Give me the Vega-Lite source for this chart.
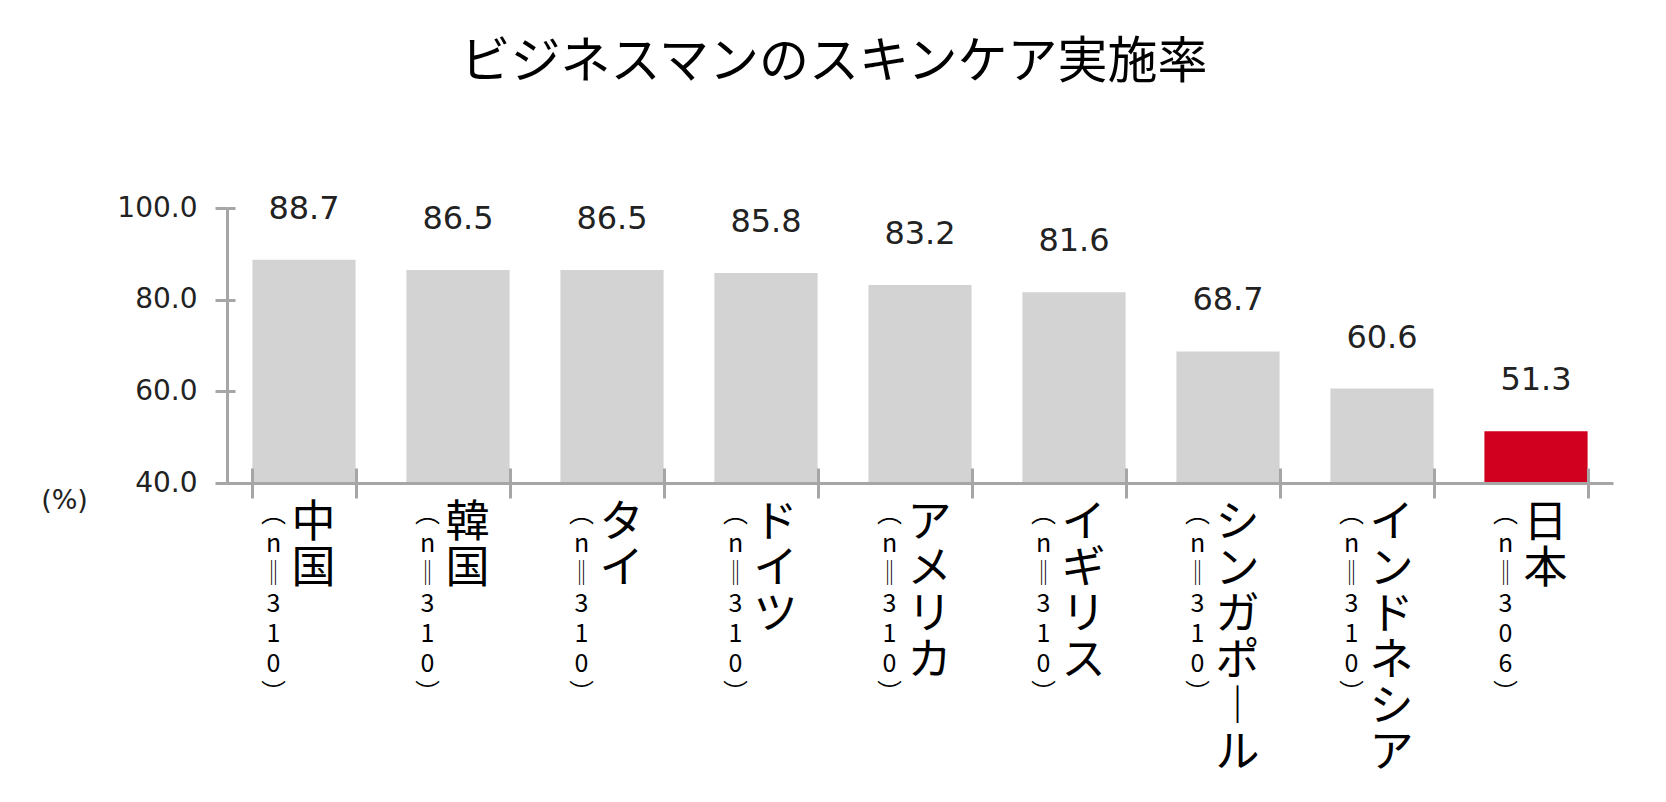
{
  "$schema": "https://vega.github.io/schema/vega-lite/v6.json",
  "width": 1386,
  "height": 275,
  "autosize": {"type": "none"},
  "padding": {"left": 227, "top": 208, "right": 53, "bottom": 319},
  "background": "white",
  "title": {
    "text": "ビジネスマンのスキンケア実施率",
    "font": "Noto Sans CJK JP",
    "fontSize": 50,
    "fontWeight": "normal",
    "color": "#000000",
    "anchor": "middle",
    "frame": "group",
    "dx": -86,
    "offset": 65,
    "baseline": "alphabetic"
  },
  "data": {
    "values": [
      {"country": "中国", "label": "中国 (n=310)", "n": 310, "rate": 88.7},
      {"country": "韓国", "label": "韓国 (n=310)", "n": 310, "rate": 86.5},
      {"country": "タイ", "label": "タイ (n=310)", "n": 310, "rate": 86.5},
      {"country": "ドイツ", "label": "ドイツ (n=310)", "n": 310, "rate": 85.8},
      {"country": "アメリカ", "label": "アメリカ (n=310)", "n": 310, "rate": 83.2},
      {"country": "イギリス", "label": "イギリス (n=310)", "n": 310, "rate": 81.6},
      {"country": "シンガポール", "label": "シンガポール (n=310)", "n": 310, "rate": 68.7},
      {"country": "インドネシア", "label": "インドネシア (n=310)", "n": 310, "rate": 60.6},
      {"country": "日本", "label": "日本 (n=306)", "n": 306, "rate": 51.3}
    ]
  },
  "layer": [
    {
      "mark": {"type": "bar"},
      "encoding": {
        "x": {
          "field": "label",
          "type": "nominal",
          "sort": null,
          "scale": {"paddingInner": 0.33, "paddingOuter": 0.165},
          "axis": {
            "orient": "bottom",
            "title": null,
            "zindex": 1,
            "domain": true,
            "domainColor": "#a6a6a6",
            "domainWidth": 3,
            "ticks": true,
            "tickBand": "extent",
            "tickSize": 15,
            "tickColor": "#a6a6a6",
            "tickWidth": 3,
            "labelAngle": 0,
            "labelAlign": "center",
            "labelBaseline": "top",
            "labelFont": "Noto Sans CJK JP",
            "labelFontSize": 44,
            "labelLineHeight": 46,
            "labelColor": "#000000",
            "labelOffset": 9,
            "labelPadding": 3,
            "labelOverlap": false,
            "labelExpr": "isValid(datum.value) ? split(replace(split(datum.value, ' ')[0], 'ー', '︱'), '') : ''"
          }
        },
        "y": {
          "field": "rate",
          "type": "quantitative",
          "scale": {"domain": [40, 100], "zero": false},
          "axis": {
            "orient": "left",
            "title": "(%)",
            "titleAngle": 0,
            "titleX": -163,
            "titleY": 292,
            "titleAlign": "center",
            "titleBaseline": "middle",
            "titleFont": "DejaVu Sans",
            "titleFontSize": 27,
            "titleFontWeight": "normal",
            "titleColor": "#222222",
            "values": [40, 60, 80, 100],
            "format": ".1f",
            "zindex": 1,
            "domain": true,
            "domainColor": "#a6a6a6",
            "domainWidth": 3,
            "ticks": true,
            "tickSize": 12,
            "tickColor": "#a6a6a6",
            "tickWidth": 3,
            "labelFont": "DejaVu Sans",
            "labelFontSize": 28,
            "labelColor": "#222222",
            "labelPadding": 18,
            "grid": false
          }
        },
        "y2": {"datum": 40},
        "color": {
          "condition": {"test": "datum.country === '日本'", "value": "#d2001f"},
          "value": "#d3d3d3"
        }
      }
    },
    {
      "mark": {"type": "text", "dy": -51, "baseline": "middle", "align": "center", "font": "DejaVu Sans", "fontSize": 32, "color": "#222222"},
      "encoding": {
        "x": {
          "field": "label",
          "type": "nominal",
          "sort": null,
          "scale": {"paddingInner": 0.33, "paddingOuter": 0.165},
          "axis": {
            "orient": "bottom",
            "title": null,
            "zindex": 1,
            "domain": false,
            "ticks": true,
            "tickBand": "extent",
            "tickSize": -15,
            "tickColor": "#a6a6a6",
            "tickWidth": 3,
            "labelAngle": 0,
            "labelAlign": "center",
            "labelBaseline": "top",
            "labelFont": "Noto Sans CJK JP",
            "labelFontSize": 25,
            "labelLineHeight": 30,
            "labelColor": "#000000",
            "labelOffset": -31,
            "labelPadding": 33,
            "labelOverlap": false,
            "labelExpr": "isValid(datum.value) ? split(replace(replace(replace(split(datum.value, ' ')[1], '(', '︵'), ')', '︶'), '=', '‖'), '') : ''"
          }
        },
        "y": {
          "field": "rate",
          "type": "quantitative",
          "scale": {"domain": [40, 100], "zero": false},
          "axis": {
            "orient": "left",
            "title": null,
            "values": [40, 60, 80, 100],
            "labels": false,
            "domain": false,
            "ticks": true,
            "tickSize": -8,
            "tickColor": "#a6a6a6",
            "tickWidth": 3,
            "grid": false,
            "zindex": 1
          }
        },
        "text": {"field": "rate", "type": "quantitative", "format": ".1f"}
      }
    }
  ],
  "resolve": {"axis": {"x": "independent", "y": "independent"}},
  "config": {"view": {"stroke": null}, "axis": {"grid": false}}
}
